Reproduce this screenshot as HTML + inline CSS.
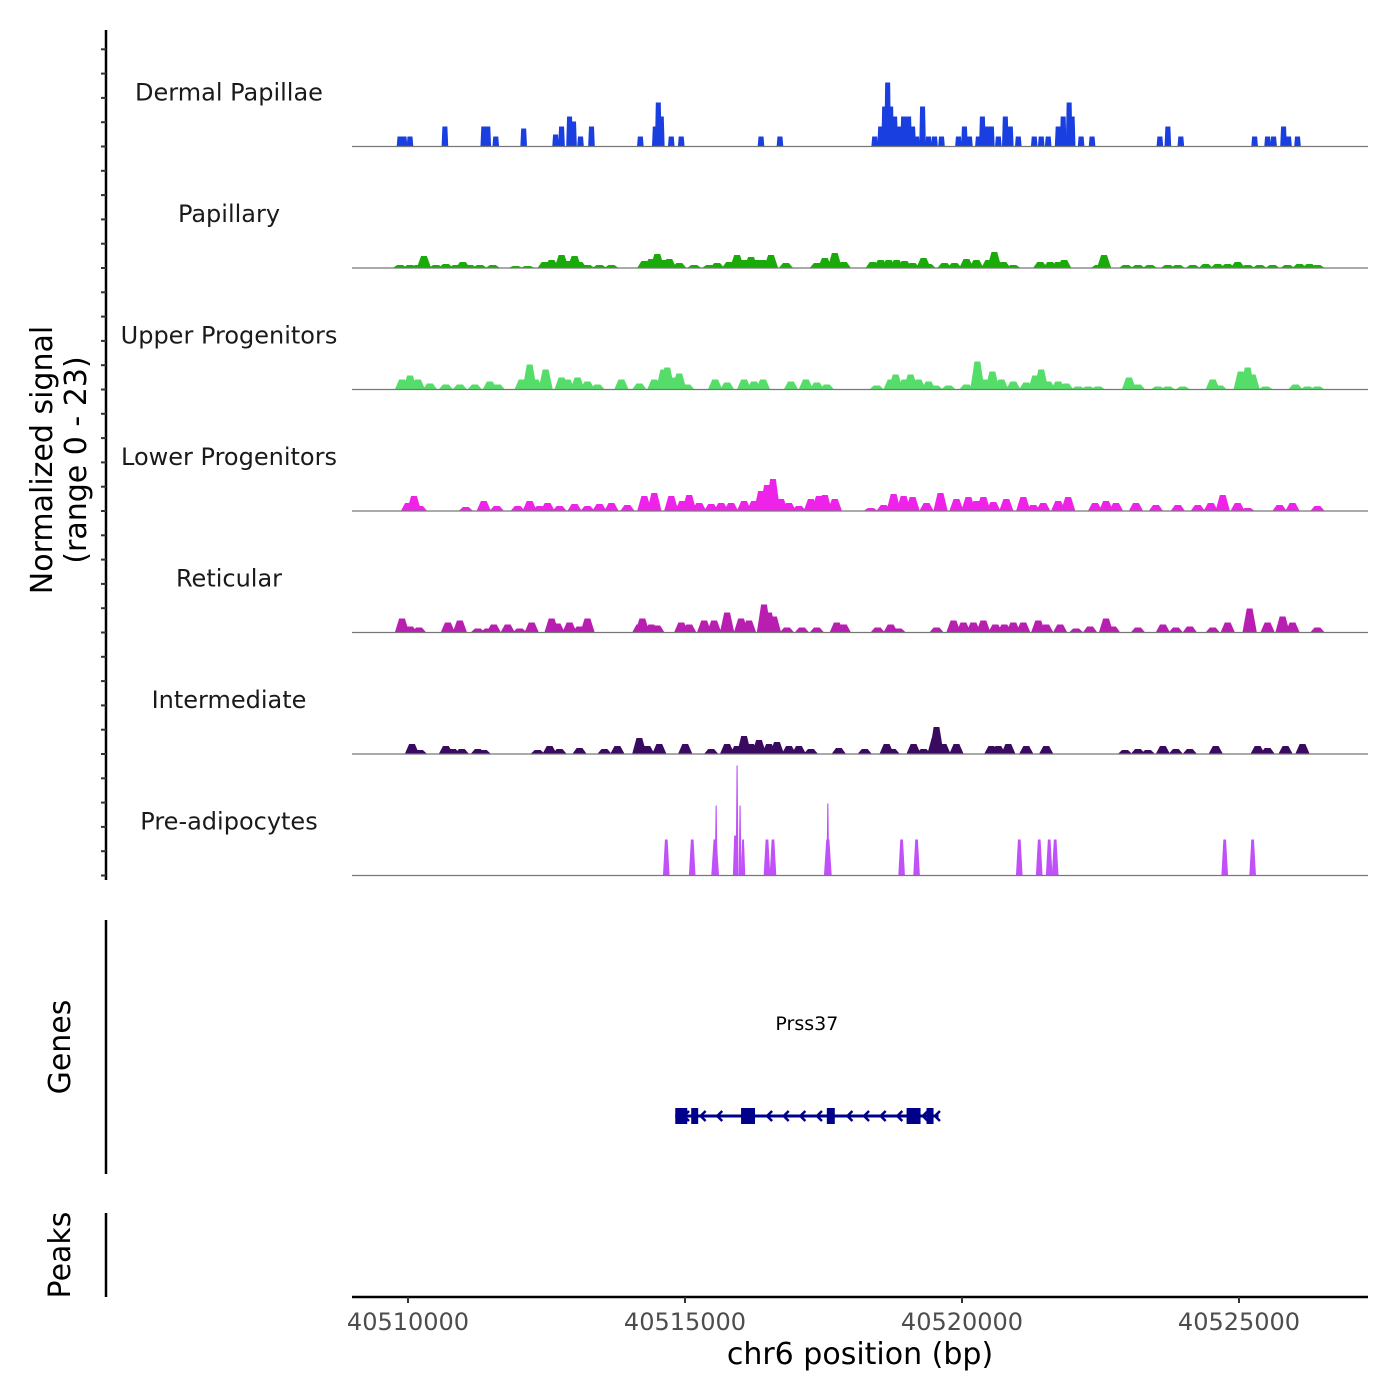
<!DOCTYPE html>
<html><head><meta charset="utf-8"><style>
html,body{margin:0;padding:0;background:#fff;}
svg{display:block;font-family:"DejaVu Sans","Liberation Sans",sans-serif;}
</style></head><body>
<svg id="chart" width="1400" height="1400" viewBox="0 0 1400 1400" xmlns="http://www.w3.org/2000/svg">
<rect x="0" y="0" width="1400" height="1400" fill="#fff"/>
<g id="tracks"></g>
<line x1="106" y1="30" x2="106" y2="880" stroke="#000" stroke-width="2.5"/>
<g id="yticks"></g>
<text transform="translate(52,460) rotate(-90)" text-anchor="middle" font-size="30" fill="#000">Normalized signal</text>
<text transform="translate(86,460) rotate(-90)" text-anchor="middle" font-size="30" fill="#000">(range 0 - 23)</text>
<line x1="106" y1="920" x2="106" y2="1174" stroke="#000" stroke-width="2.5"/>
<text transform="translate(70,1047) rotate(-90)" text-anchor="middle" font-size="30" fill="#000">Genes</text>
<g id="genes"></g>
<line x1="106" y1="1213" x2="106" y2="1297" stroke="#000" stroke-width="2.5"/>
<text transform="translate(70,1255) rotate(-90)" text-anchor="middle" font-size="30" fill="#000">Peaks</text>
<line x1="352" y1="1297" x2="1368" y2="1297" stroke="#000" stroke-width="2.5"/>
<g id="xticks"></g>
<text x="860" y="1364" text-anchor="middle" font-size="30" fill="#000">chr6 position (bp)</text>
</svg>
<script>
// positions are bp offsets from regionStart; values are normalized signal (0-23)
const regionStart = 40510000;
const trackNames = ["Dermal Papillae","Papillary","Upper Progenitors","Lower Progenitors","Reticular","Intermediate","Pre-adipocytes"];
const trackColors = ["#1a3fe0","#1aaa0a","#55dd6a","#ee22e8","#b81eb0","#3a0a60","#c050f8"];
const xTicks = [40510000,40515000,40520000,40525000];
const xTickLabels = ["40510000","40515000","40520000","40525000"];

const dpPos = [-144,-72,36,666,1368,1440,1584,2088,2664,2772,2916,2988,3114,3312,4194,4464,4518,4572,4752,4932,6372,6714,8424,8532,8604,8658,8712,8784,8856,8946,9036,9108,9180,9288,9396,9504,9630,9936,10044,10134,10296,10368,10440,10530,10656,10782,10872,11016,11304,11430,11556,11736,11826,11934,11988,12150,12348,13572,13716,13950,15282,15516,15624,15804,15894,16056];
const dpVal = [2,2,2,4,4,4,2,3.6,2.4,4,6,5,2,4,2,4,8.8,6,2,2,2,2,2,4,8,12.8,8,6,4,6,6,4,2,8,2,2,2,2,4,2,2,6,4,4,2,6,4,2,2,2,2,4,6,8.8,6,2,2,2,4,2,2,2,2,4,2,2];

const paPos = [-144,36,180,288,504,684,864,990,1116,1296,1530,1944,2160,2466,2592,2772,2880,3006,3096,3240,3456,3672,4266,4392,4500,4608,4716,4896,5166,5436,5580,5796,5940,6066,6192,6300,6408,6552,6822,7380,7524,7704,7866,8388,8532,8676,8820,8964,9108,9306,9396,9684,9864,10080,10260,10476,10584,10746,10926,11412,11592,11736,11844,12456,12564,12960,13176,13392,13716,13896,14166,14400,14616,14796,14976,15156,15372,15606,15876,16092,16272,16416];
const paVal = [.6,.6,.6,2.4,.6,.8,.6,1.2,.6,.6,.6,.4,.4,1.2,1.6,2.6,1.4,2.4,1.2,.6,.6,.6,1.4,1.8,2.8,1.6,1.8,1,.6,.6,1,1.2,2.6,1.6,2.2,1.6,1.6,2.6,1,1,2,3,1.2,1.2,1.6,1.6,1.6,1.4,1,2,.8,1,1,1.8,1.6,1.6,3.2,1.2,.6,1.2,1.2,1.2,1.6,.6,2.6,.6,.6,.6,.6,.6,.6,.8,.8,.8,1.2,.6,.6,.6,.6,.8,.8,.6];

const upPos = [-108,36,180,396,684,936,1206,1476,1620,2052,2196,2304,2484,2772,2880,3060,3240,3420,3852,4176,4446,4608,4680,4824,4896,5040,5544,5760,6066,6246,6408,6912,7182,7380,7560,8460,8712,8802,8964,9072,9216,9396,9522,9756,10080,10278,10404,10548,10710,10926,11160,11322,11430,11556,11736,11880,12096,12276,12456,13014,13176,13536,13716,13986,14526,14652,15030,15156,15246,15480,16020,16236,16416];
const upVal = [2,2.8,2,1.2,1,1,1,1.6,1,2,5,2,4,2.4,2,2.4,1.6,1,2,1.2,2,4,4.4,2.4,3.2,1,2,1.4,2,1.6,2,1.6,2,1.4,1,.8,2,3,2,3,2,1.6,.8,.8,1,5.6,2,3.6,2,1.6,1.4,2.8,4,1.6,1.6,1.2,.6,.6,.6,2.4,1,.6,.6,.6,2,.8,3.6,4.4,3,.6,1,.6,.6];

const loPos = [0,108,216,1044,1368,1602,1980,2196,2376,2520,2736,3006,3240,3456,3672,3960,4266,4446,4752,4950,5076,5256,5472,5652,5832,6066,6246,6372,6480,6588,6732,6876,7056,7272,7416,7524,7704,8352,8586,8766,8946,9108,9360,9612,9900,10116,10260,10386,10566,10800,11106,11286,11466,11736,11916,12402,12600,12780,13140,13500,13896,14256,14490,14706,14976,15156,15732,15966,16416];
const loVal = [1.6,3,1,.8,2,1,1,2,1,1.6,1,1.4,1,1.4,1.6,1.2,3,3.6,3,2,3.2,1.6,1.4,1.6,1.6,2,2,4,5.2,6.4,2.4,1.6,1,2.4,3,3.2,2.4,.6,1.2,3.4,3,2.8,1.6,3.6,2.4,2.8,2,2.8,1.8,2.4,2.8,1.2,1.6,2,2.8,1.6,2,1.6,1.6,1.2,1.2,1.2,1.6,3.2,1.6,.6,1.2,1.6,1];

const rePos = [-108,36,198,720,936,1260,1440,1548,1800,2016,2232,2592,2700,2916,3096,3240,4176,4230,4392,4500,4932,5076,5346,5526,5760,6012,6156,6426,6516,6606,6840,7110,7380,7740,7866,8478,8712,8856,9540,9846,10026,10206,10386,10602,10764,10926,11106,11376,11520,11772,12060,12312,12600,12726,13176,13626,13860,14112,14526,14796,15192,15516,15786,15966,16416];
const reVal = [2.8,1.2,1,2,2.4,.8,.8,1.6,1.6,.8,2,2.8,1.8,2,1.2,2.8,1.6,2.8,1.6,1.4,2,1.6,2.4,2.4,4,2.8,2.4,5.6,4,3.2,1,1,1,2,1.6,1,1.6,.8,1,2.4,2,2,2.4,1.6,1.6,2,2,2.4,1.6,1.6,.8,1.2,2.8,1.2,1,1.6,1,1.2,1,2,4.8,2,3.2,2,1];

const inPos = [72,216,684,810,972,1260,1368,2340,2556,2736,3096,3546,3780,4176,4320,4536,5004,5472,5760,5940,6066,6192,6336,6516,6660,6876,7056,7272,7776,8244,8640,8748,9126,9306,9504,9540,9666,9900,10530,10656,10836,11160,11520,12942,13176,13356,13626,13860,14112,14580,15336,15516,15840,16146];
const inVal = [2,.8,1.6,1,1,1,.8,.8,1.6,1,1.2,1,1.6,3.2,1.6,2,2,1,2,1.6,3.6,2,2.8,2,2.4,1.6,1.6,1,1.2,1,2,1,2,1,3.2,5.4,2,2,1.6,1.6,2,1.6,1.6,.8,1,.8,1.6,1,1,1.6,1.6,1.2,1.6,2];

const prePos = [4662,5130,5544,5562,5904,5940,5994,6048,6480,6588,7578,7578,8910,9180,11034,11394,11574,11682,14742,15246];
const preVal = [7.2,7.2,7.2,14,8,22,14,7.2,7.2,7.2,7.2,14.4,7.2,7.2,7.2,7.2,7.2,7.2,7.2,7.2];
const preWidth = [120,120,140,50,80,50,50,80,120,120,140,50,120,120,120,120,120,120,120,120];

const geneName = "Prss37";
const geneStart = 4824, geneEnd = 9576;
const exonStarts = [4824,5112,6012,7560,9000,9360];
const exonEnds = [5040,5238,6264,7704,9252,9486];
const arrowPos = [5000,5300,5600,6500,6800,7100,7400,7950,8250,8550,8850,9310,9530];

const SVGNS = "http://www.w3.org/2000/svg";
const pxPerBp = 277/5000;
function xScale(off){ return 408 + off*pxPerBp; }
function xAbs(bp){ return xScale(bp - regionStart); }
const trackTop = 25, trackH = 121.5, unitPx = 5;
function yScale(v, i){ return trackTop + (i+1)*trackH - v*unitPx; }
function mk(tag, attrs, parent){ const e=document.createElementNS(SVGNS,tag); for(const k in attrs) e.setAttribute(k,attrs[k]); parent.appendChild(e); return e; }

const series = [[dpPos,dpVal],[paPos,paVal],[upPos,upVal],[loPos,loVal],[rePos,reVal],[inPos,inVal],[prePos,preVal]];
const tracksG = document.getElementById('tracks');
series.forEach((s,i)=>{
  const g = mk('g',{},tracksG);
  
  
  const base = yScale(0,i);
  const lab = mk('text',{x:229,y:base-46,'text-anchor':'middle','font-size':'24',fill:'#1a1a1a'},g);
  lab.textContent = trackNames[i];
  
  
  const [pos,val] = s;
  pos.forEach((p,j)=>{
    const v = val[j];
    let w, topFrac;
    if(i===0){ w=120; topFrac=0.75; }
    else if(i===6){ w=preWidth[j]; topFrac=0.4; }
    else { w=260; topFrac=0.4; }
    const x0=xScale(p-w/2), x1=xScale(p+w/2);
    const xm=xScale(p), hw=(x1-x0)*topFrac/2;
    const yt=yScale(v,i);
    const poly = mk('polygon',{points:`${x0},${base} ${xm-hw},${yt} ${xm+hw},${yt} ${x1},${base}`,fill:trackColors[i]},g);
    
    
  });
  const bl = mk('line',{x1:352,y1:base,x2:1368,y2:base,stroke:'#777','stroke-width':'1.2'},g);
  
  
});

const yt = document.getElementById('yticks');
for(let i=0;i<7;i++){
  for(let k=0;k<5;k++){
    const y = trackTop + (i+1)*trackH - k*trackH/5;
    const t = mk('line',{x1:101,y1:y,x2:106,y2:y,stroke:'#333','stroke-width':'2'},yt);
    
    
  }
}

const xt = document.getElementById('xticks');
xTicks.forEach((b,i)=>{
  const x = xAbs(b);
  const t = mk('line',{x1:x,y1:1297,x2:x,y2:1303,stroke:'#333','stroke-width':'2'},xt);
  
  
  const l = mk('text',{x:x,y:1330,'text-anchor':'middle','font-size':'24',fill:'#4d4d4d'},xt);
  l.textContent = xTickLabels[i];
  
  
});

const gg = document.getElementById('genes');
const gy = 1116, navy = '#00008b';
const gl = mk('line',{x1:xScale(geneStart),y1:gy,x2:xScale(geneEnd),y2:gy,stroke:navy,'stroke-width':'3'},gg);


arrowPos.forEach(p=>{
  const x = xScale(p);
  const a = mk('polyline',{points:`${x+4},${gy-5} ${x-1},${gy} ${x+4},${gy+5}`,fill:'none',stroke:navy,'stroke-width':'2.5'},gg);
  
  
});
exonStarts.forEach((s,i)=>{
  const x0 = xScale(s), x1 = xScale(exonEnds[i]);
  const r = mk('rect',{x:x0,y:gy-8,width:x1-x0,height:16,fill:navy},gg);
  
  
});
const gt = mk('text',{x:xScale((geneStart+geneEnd)/2),y:1030,'text-anchor':'middle','font-size':'19',fill:'#000'},gg);
gt.textContent = geneName;


</script>
</body></html>
